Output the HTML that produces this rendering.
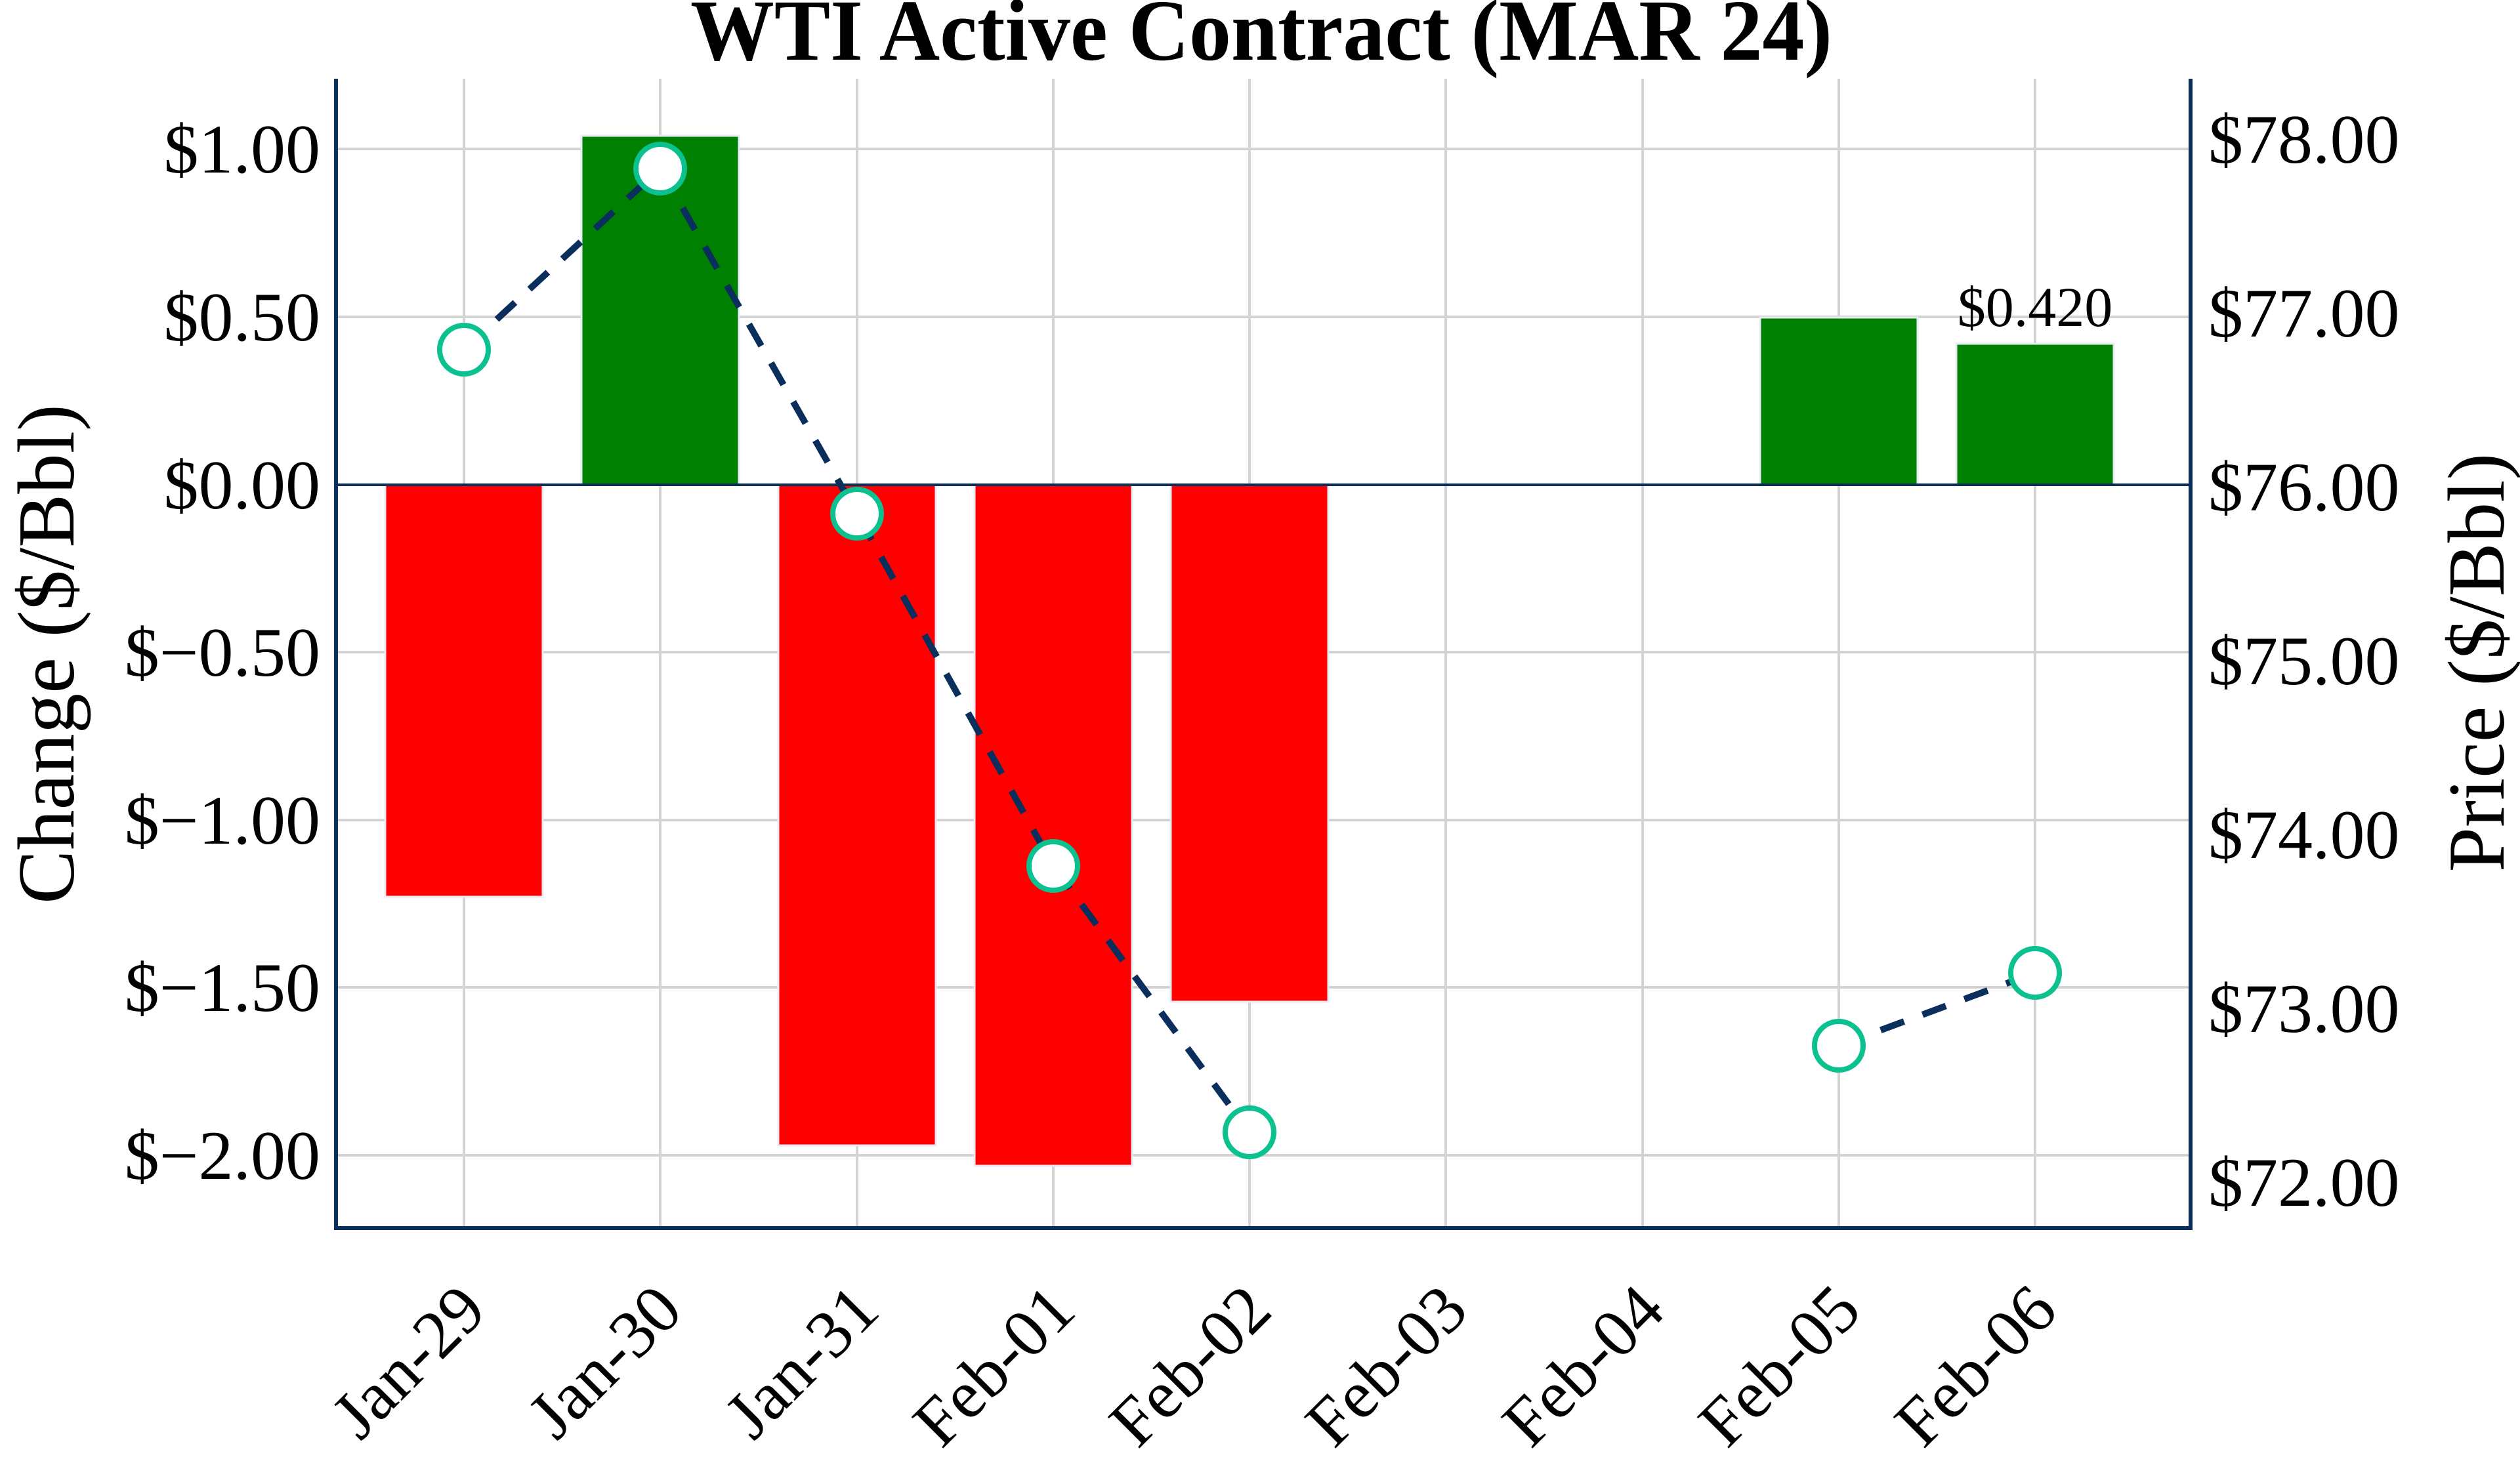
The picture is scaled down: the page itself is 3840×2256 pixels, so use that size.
<!DOCTYPE html>
<html><head><meta charset="utf-8"><style>
html,body{margin:0;padding:0;background:#fff;}
svg{display:block;}
text{font-family:"Liberation Serif",serif;fill:#000;}
</style></head><body>
<svg width="3840" height="2256" viewBox="0 0 3840 2256" xmlns="http://www.w3.org/2000/svg">
<rect width="3840" height="2256" fill="#fff"/>
<g stroke="#d3d3d3" stroke-width="4">
<line x1="707" y1="120" x2="707" y2="1872"/>
<line x1="1006" y1="120" x2="1006" y2="1872"/>
<line x1="1306" y1="120" x2="1306" y2="1872"/>
<line x1="1605" y1="120" x2="1605" y2="1872"/>
<line x1="1904" y1="120" x2="1904" y2="1872"/>
<line x1="2203" y1="120" x2="2203" y2="1872"/>
<line x1="2503" y1="120" x2="2503" y2="1872"/>
<line x1="2802" y1="120" x2="2802" y2="1872"/>
<line x1="3101" y1="120" x2="3101" y2="1872"/>
<line x1="512" y1="227" x2="3338" y2="227"/>
<line x1="512" y1="483" x2="3338" y2="483"/>
<line x1="512" y1="994" x2="3338" y2="994"/>
<line x1="512" y1="1250" x2="3338" y2="1250"/>
<line x1="512" y1="1505" x2="3338" y2="1505"/>
<line x1="512" y1="1761" x2="3338" y2="1761"/>
</g>
<g stroke="#e5ecf6" stroke-width="3">
<rect x="587" y="739" width="240" height="628" fill="#ff0000"/>
<rect x="886" y="207" width="240" height="532" fill="#008000"/>
<rect x="1186" y="739" width="240" height="1007" fill="#ff0000"/>
<rect x="1485" y="739" width="240" height="1038" fill="#ff0000"/>
<rect x="1784" y="739" width="240" height="788" fill="#ff0000"/>
<rect x="2682" y="484" width="240" height="255" fill="#008000"/>
<rect x="2981" y="524" width="240" height="215" fill="#008000"/>
</g>
<line x1="512" y1="739" x2="3338" y2="739" stroke="#0a2f5c" stroke-width="4"/>
<path d="M512 120 V1872 H3338 V120" fill="none" stroke="#0a2f5c" stroke-width="6"/>
<g fill="none" stroke="#0a2f5c" stroke-width="10" stroke-dasharray="38,30">
<polyline points="707,533 1006,257 1306,783 1605,1320 1904,1726"/>
<polyline points="2802,1594 3101,1483"/>
</g>
<g fill="#fff" stroke="#0bc18f" stroke-width="8">
<circle cx="707" cy="533" r="37"/>
<circle cx="1006" cy="257" r="37"/>
<circle cx="1306" cy="783" r="37"/>
<circle cx="1605" cy="1320" r="37"/>
<circle cx="1904" cy="1726" r="37"/>
<circle cx="2802" cy="1594" r="37"/>
<circle cx="3101" cy="1483" r="37"/>
</g>
<text x="1922" y="91" font-size="133" font-weight="bold" text-anchor="middle" textLength="1740" lengthAdjust="spacingAndGlyphs">WTI Active Contract (MAR 24)</text>
<g font-size="106" text-anchor="end">
<text x="488" y="263">$1.00</text>
<text x="488" y="519">$0.50</text>
<text x="488" y="775">$0.00</text>
<text x="488" y="1030">$−0.50</text>
<text x="488" y="1286">$−1.00</text>
<text x="488" y="1541">$−1.50</text>
<text x="488" y="1797">$−2.00</text>
</g>
<g font-size="106">
<text x="3365" y="248">$78.00</text>
<text x="3365" y="513">$77.00</text>
<text x="3365" y="778">$76.00</text>
<text x="3365" y="1043">$75.00</text>
<text x="3365" y="1308">$74.00</text>
<text x="3365" y="1573">$73.00</text>
<text x="3365" y="1838">$72.00</text>
</g>
<text x="3101" y="497" font-size="86" text-anchor="middle">$0.420</text>
<text transform="translate(112,997) rotate(-90)" font-size="123" text-anchor="middle">Change ($/Bbl)</text>
<text transform="translate(3815,1010) rotate(-90)" font-size="123" text-anchor="middle">Price ($/Bbl)</text>
<g font-size="104" text-anchor="end">
<text transform="translate(745,2002) rotate(-45)">Jan-29</text>
<text transform="translate(1044,2002) rotate(-45)">Jan-30</text>
<text transform="translate(1344,2002) rotate(-45)">Jan-31</text>
<text transform="translate(1643,2002) rotate(-45)">Feb-01</text>
<text transform="translate(1942,2002) rotate(-45)">Feb-02</text>
<text transform="translate(2241,2002) rotate(-45)">Feb-03</text>
<text transform="translate(2541,2002) rotate(-45)">Feb-04</text>
<text transform="translate(2840,2002) rotate(-45)">Feb-05</text>
<text transform="translate(3139,2002) rotate(-45)">Feb-06</text>
</g>
</svg>
</body></html>
